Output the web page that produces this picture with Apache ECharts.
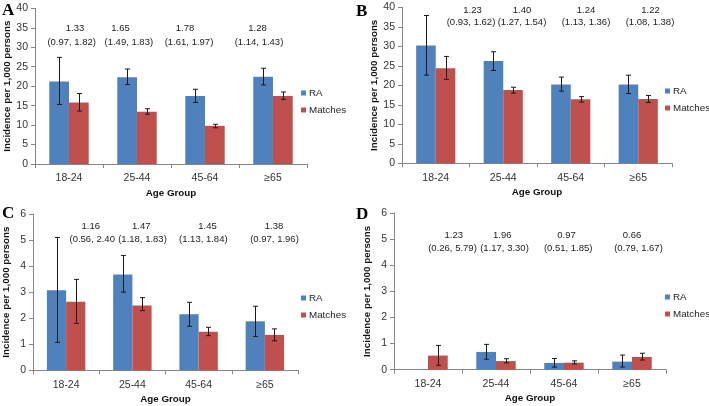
<!DOCTYPE html>
<html>
<head>
<meta charset="utf-8">
<script src="https://cdn.jsdelivr.net/npm/echarts@6/dist/echarts.min.js"></script>
<style>
html,body{margin:0;padding:0;background:#fff;}
#chart{width:709px;height:406px;}
</style>
</head>
<body>
<div id="chart"></div>
<script>
// ---- Data ----
const categories = ['18-24', '25-44', '45-64', '≥65'];

// Panel A
const raA = [21.2, 22.3, 17.5, 22.4];
const raA_lo = [15.3, 20.4, 15.8, 20.3];
const raA_hi = [27.4, 24.4, 19.2, 24.6];
const mA = [15.8, 13.4, 9.8, 17.5];
const mA_lo = [13.6, 12.8, 9.3, 16.6];
const mA_hi = [18.1, 14.2, 10.2, 18.5];
const ratioA = ['1.33', '1.65', '1.78', '1.28'];
const ciA = ['(0.97, 1.82)', '(1.49, 1.83)', '(1.61, 1.97)', '(1.14, 1.43)'];

// Panel B
const raB = [30.2, 26.2, 20.2, 20.2];
const raB_lo = [22.6, 23.8, 18.5, 17.9];
const raB_hi = [37.9, 28.6, 22.1, 22.6];
const mB = [24.4, 18.8, 16.4, 16.5];
const mB_lo = [21.5, 18.0, 15.7, 15.6];
const mB_hi = [27.4, 19.5, 17.1, 17.4];
const ratioB = ['1.23', '1.40', '1.24', '1.22'];
const ciB = ['(0.93, 1.62)', '(1.27, 1.54)', '(1.13, 1.36)', '(1.08, 1.38)'];

// Panel C
const raC = [3.07, 3.68, 2.15, 1.88];
const raC_lo = [1.07, 3.00, 1.69, 1.30];
const raC_hi = [5.10, 4.41, 2.61, 2.46];
const mC = [2.63, 2.49, 1.48, 1.36];
const mC_lo = [1.80, 2.29, 1.33, 1.13];
const mC_hi = [3.49, 2.79, 1.65, 1.59];
const ratioC = ['1.16', '1.47', '1.45', '1.38'];
const ciC = ['(0.56, 2.40', '(1.18, 1.83)', '(1.13, 1.84)', '(0.97, 1.96)'];

// Panel D
const raD = [null, 0.68, 0.26, 0.31];
const raD_lo = [null, 0.40, 0.10, 0.10];
const raD_hi = [null, 0.97, 0.43, 0.56];
const mD = [0.54, 0.33, 0.27, 0.49];
const mD_lo = [0.17, 0.26, 0.22, 0.37];
const mD_hi = [0.93, 0.42, 0.34, 0.63];
const ratioD = ['1.23', '1.96', '0.97', '0.66'];
const ciD = ['(0.26, 5.79)', '(1.17, 3.30)', '(0.51, 1.85)', '(0.79, 1.67)'];

const yTicksAB = {min: 0, max: 40, interval: 5};
const yTicksCD = {min: 0, max: 6, interval: 1};

// ---- Layout / style ----
const FONT = '"Liberation Sans", Arial, sans-serif';
const BLUE = '#4F81BD';
const RED = '#C0504D';
const AXIS = '#868686';
const BAR_W = 0.29;

const panels = [
  {letter: 'A', grid: {left: 35, top: 8.3, width: 272, height: 155.7}, ticks: yTicksAB,
   ra: raA, raLo: raA_lo, raHi: raA_hi, m: mA, mLo: mA_lo, mHi: mA_hi, ratio: ratioA, ci: ciA,
   letterPos: [2, 2], legendPos: [301, 87],
   r1x: [75, 120.5, 185, 257.5], r1y: 28.7, r2x: [71.7, 128.8, 189, 259], r2y: 42.3},
  {letter: 'B', grid: {left: 402, top: 7.3, width: 270, height: 156}, ticks: yTicksAB,
   ra: raB, raLo: raB_lo, raHi: raB_hi, m: mB, mLo: mB_lo, mHi: mB_hi, ratio: ratioB, ci: ciB,
   letterPos: [356, 3], legendPos: [665, 85],
   r1x: [472.5, 522, 586, 650.5], r1y: 10.3, r2x: [471, 522, 586, 650], r2y: 22.7},
  {letter: 'C', grid: {left: 30.7, top: 214, width: 267.3, height: 156.3}, ticks: yTicksCD,
   ra: raC, raLo: raC_lo, raHi: raC_hi, m: mC, mLo: mC_lo, mHi: mC_hi, ratio: ratioC, ci: ciC,
   letterPos: [2, 205], legendPos: [301, 292],
   r1x: [90.8, 141.2, 207.5, 274], r1y: 226.3, r2x: [92.2, 142.5, 203.3, 274.5], r2y: 239},
  {letter: 'D', grid: {left: 394, top: 213, width: 272, height: 156.7}, ticks: yTicksCD,
   ra: raD, raLo: raD_lo, raHi: raD_hi, m: mD, mLo: mD_lo, mHi: mD_hi, ratio: ratioD, ci: ciD,
   letterPos: [356, 206], legendPos: [665, 291],
   r1x: [453.8, 502.3, 566.5, 632], r1y: 235.3, r2x: [452.5, 504.5, 568.2, 638.5], r2y: 248}
];

function errSeries(idx, lo, hi, side) {
  return {
    type: 'custom', name: 'err' + idx + side, xAxisIndex: idx, yAxisIndex: idx, z: 5,
    silent: true,
    encode: {x: 0, y: [1, 2]},
    data: categories.map((c, i) => [i, lo[i] == null ? NaN : lo[i], hi[i] == null ? NaN : hi[i]]),
    renderItem: function (params, api) {
      const lv = api.value(1), hv = api.value(2);
      if (isNaN(lv) || isNaN(hv)) return null;
      const i = api.value(0);
      const pLo = api.coord([i, lv]);
      const pHi = api.coord([i, hv]);
      const bw = api.size([1, 0])[0] * BAR_W;
      const x = Math.round(pLo[0] + side * bw / 2) + 0.5;
      const cap = 2.5;
      const st = {stroke: '#1a1a1a', lineWidth: 1};
      return {
        type: 'group',
        children: [
          {type: 'line', shape: {x1: x, y1: pLo[1], x2: x, y2: pHi[1]}, style: st},
          {type: 'line', shape: {x1: x - cap, y1: pLo[1], x2: x + cap, y2: pLo[1]}, style: st},
          {type: 'line', shape: {x1: x - cap, y1: pHi[1], x2: x + cap, y2: pHi[1]}, style: st}
        ]
      };
    }
  };
}

const grids = [], xAxes = [], yAxes = [], series = [], legends = [], graphics = [];
panels.forEach((p, idx) => {
  grids.push(Object.assign({containLabel: false}, p.grid));
  xAxes.push({
    type: 'category', gridIndex: idx, data: categories,
    axisLine: {show: true, lineStyle: {color: AXIS, width: 1}},
    axisTick: {show: true, length: 4, alignWithLabel: false, interval: 0, lineStyle: {color: AXIS}},
    axisLabel: {fontSize: 10.5, color: '#333', margin: 9, fontFamily: FONT, interval: 0},
    splitLine: {show: false},
    name: 'Age Group', nameLocation: 'middle', nameGap: 24,
    nameTextStyle: {fontWeight: 'bold', fontSize: 9.8, color: '#111', fontFamily: FONT}
  });
  yAxes.push({
    type: 'value', gridIndex: idx, min: p.ticks.min, max: p.ticks.max, interval: p.ticks.interval,
    axisLine: {show: true, lineStyle: {color: AXIS, width: 1}},
    axisTick: {show: true, length: 4, lineStyle: {color: AXIS}},
    axisLabel: {fontSize: 10.5, color: '#333', margin: 7, fontFamily: FONT},
    splitLine: {show: false},
    name: 'Incidence per 1,000 persons', nameLocation: 'middle', nameGap: 22,
    nameTextStyle: {fontWeight: 'bold', fontSize: 9.8, color: '#111', fontFamily: FONT}
  });
  series.push({
    type: 'bar', name: 'RA', xAxisIndex: idx, yAxisIndex: idx, data: p.ra,
    barWidth: (BAR_W * 100) + '%', barGap: '0%', itemStyle: {color: BLUE}, silent: true
  });
  series.push({
    type: 'bar', name: 'Matches', xAxisIndex: idx, yAxisIndex: idx, data: p.m,
    barWidth: (BAR_W * 100) + '%', barGap: '0%', itemStyle: {color: RED}, silent: true
  });
  series.push(errSeries(idx, p.raLo, p.raHi, -1));
  series.push(errSeries(idx, p.mLo, p.mHi, 1));
  legends.push({
    data: ['RA', 'Matches'], orient: 'vertical', left: p.legendPos[0], top: p.legendPos[1],
    itemWidth: 5, itemHeight: 5, itemGap: 5, icon: 'rect', selectedMode: false,
    padding: 0,
    textStyle: {fontSize: 9.8, color: '#222', fontFamily: FONT, lineHeight: 12, padding: [0, 0, 0, -2]}
  });
  graphics.push({
    type: 'text', left: p.letterPos[0], top: p.letterPos[1],
    style: {text: p.letter, font: 'bold 17px "Liberation Serif", "Times New Roman", serif', fill: '#000'}
  });
  p.ratio.forEach((t, i) => {
    graphics.push({
      type: 'text', x: p.r1x[i], y: p.r1y,
      style: {text: t, font: '9.5px ' + FONT, fill: '#222', textAlign: 'center', textVerticalAlign: 'middle'}
    });
    graphics.push({
      type: 'text', x: p.r2x[i], y: p.r2y,
      style: {text: p.ci[i], font: '9.5px ' + FONT, fill: '#222', textAlign: 'center', textVerticalAlign: 'middle'}
    });
  });
});

const chart = echarts.init(document.getElementById('chart'), null, {renderer: 'canvas'});
chart.setOption({
  animation: false,
  backgroundColor: '#fff',
  textStyle: {fontFamily: FONT},
  grid: grids,
  xAxis: xAxes,
  yAxis: yAxes,
  legend: legends,
  series: series,
  graphic: graphics
});
</script>
</body>
</html>
